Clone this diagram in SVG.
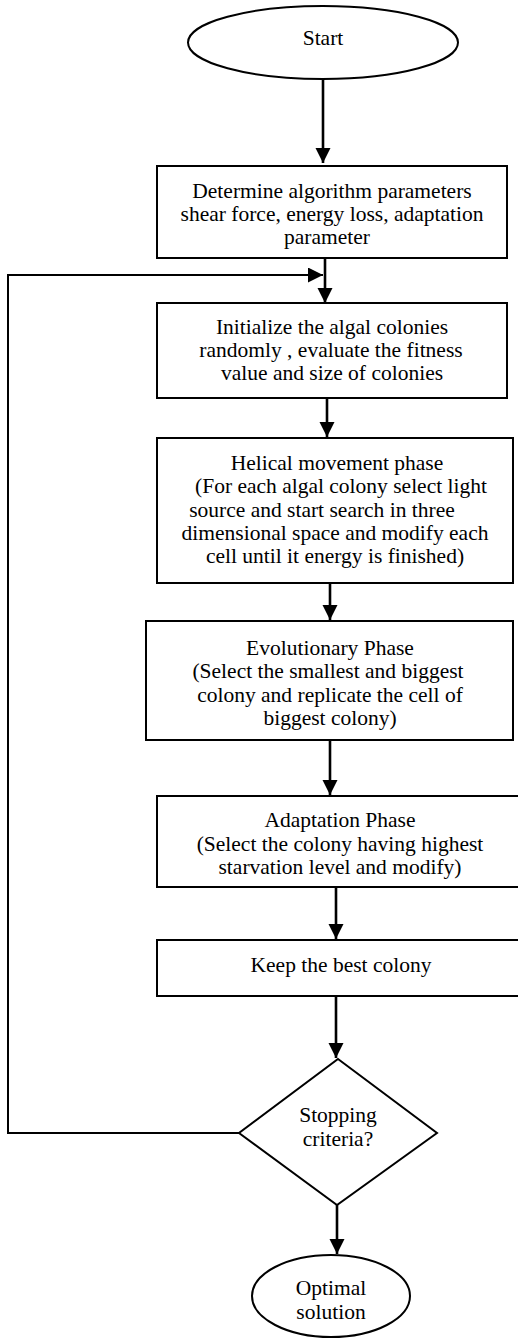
<svg xmlns="http://www.w3.org/2000/svg" width="518" height="1339" viewBox="0 0 518 1339">
<style>
.shape{fill:#fff;stroke:#000;stroke-width:2}
.t{font-family:"Liberation Serif","Times New Roman",serif;font-size:21.5px;fill:#000;text-anchor:middle}
.c{fill:none;stroke:#000;stroke-width:2.6}
.loop{fill:none;stroke:#000;stroke-width:2}
</style>
<defs>
<marker id="ah" markerUnits="userSpaceOnUse" markerWidth="16" markerHeight="16" refX="15" refY="7.5" orient="auto">
<path d="M0,0 L15,7.5 L0,15 z" fill="#000"/>
</marker>
</defs>
<rect width="518" height="1339" fill="#fff"/>
<g id="connectors">
<line class="c" x1="323" y1="79" x2="323" y2="163" marker-end="url(#ah)"/>
<line class="c" x1="325" y1="258" x2="325" y2="303" marker-end="url(#ah)"/>
<line class="c" x1="327" y1="398" x2="327" y2="437" marker-end="url(#ah)"/>
<line class="c" x1="330" y1="583" x2="330" y2="620" marker-end="url(#ah)"/>
<line class="c" x1="330" y1="740" x2="330" y2="795" marker-end="url(#ah)"/>
<line class="c" x1="336" y1="887" x2="336" y2="939" marker-end="url(#ah)"/>
<line class="c" x1="336" y1="996" x2="336" y2="1058" marker-end="url(#ah)"/>
<line class="c" x1="337" y1="1205" x2="337" y2="1254" marker-end="url(#ah)"/>
<path class="loop" d="M239,1133 L8,1133 L8,275 L323,275" marker-end="url(#ah)"/>
</g>
<g id="start">
<ellipse class="shape" cx="323" cy="42.5" rx="135" ry="36.5"/>
<text class="t" x="323" y="45">Start</text>
</g>
<g id="params">
<rect class="shape" x="157" y="166" width="350" height="92"/>
<text class="t" x="332" y="198">Determine algorithm parameters</text>
<text class="t" x="332" y="221">shear force, energy loss, adaptation</text>
<text class="t" x="327" y="244">parameter</text>
</g>
<g id="init">
<rect class="shape" x="157" y="303" width="350" height="95"/>
<text class="t" x="332" y="334">Initialize the algal colonies</text>
<text class="t" x="331" y="357">randomly , evaluate the fitness</text>
<text class="t" x="332" y="380">value and size of colonies</text>
</g>
<g id="helical">
<rect class="shape" x="157" y="438" width="356" height="145"/>
<text class="t" x="337" y="470">Helical movement phase</text>
<text class="t" x="341" y="493">(For each algal colony select light</text>
<text class="t" x="322" y="517">source and start search in three</text>
<text class="t" x="335" y="540">dimensional space and modify each</text>
<text class="t" x="335" y="563">cell until it energy is finished)</text>
</g>
<g id="evolutionary">
<rect class="shape" x="146" y="621" width="367" height="119"/>
<text class="t" x="330" y="655">Evolutionary Phase</text>
<text class="t" x="328" y="678">(Select the smallest and biggest</text>
<text class="t" x="330" y="702">colony and replicate the cell of</text>
<text class="t" x="330" y="725">biggest colony)</text>
</g>
<g id="adaptation">
<rect class="shape" x="157" y="796" width="366" height="91"/>
<text class="t" x="340" y="827">Adaptation Phase</text>
<text class="t" x="340" y="851">(Select the colony having highest</text>
<text class="t" x="340" y="874">starvation level and modify)</text>
</g>
<g id="keep">
<rect class="shape" x="157" y="940" width="366" height="56"/>
<text class="t" x="341" y="972">Keep the best colony</text>
</g>
<g id="stopping">
<polygon class="shape" points="338,1059 437,1133 337,1205 239,1133"/>
<text class="t" x="338" y="1122">Stopping</text>
<text class="t" x="338" y="1146">criteria?</text>
</g>
<g id="optimal">
<ellipse class="shape" cx="331" cy="1296" rx="79" ry="41"/>
<text class="t" x="331" y="1295">Optimal</text>
<text class="t" x="331" y="1319">solution</text>
</g>
</svg>
